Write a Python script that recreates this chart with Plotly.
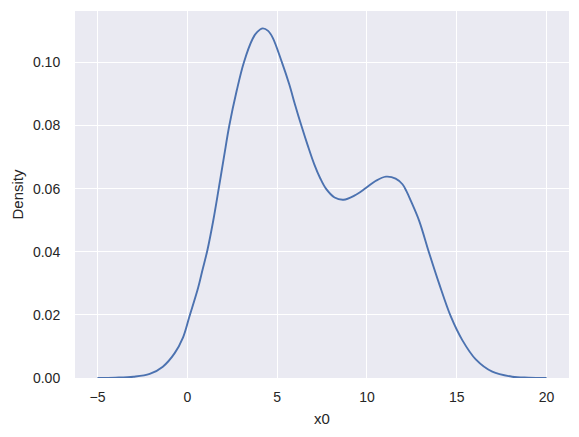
import plotly.graph_objects as go

# KDE curve
x0 = [-5.0, -4.0, -3.0, -2.09, -1.36, -0.71, -0.24, 0.12, 0.6, 0.85, 1.12, 1.45,
      1.75, 2.05, 2.34, 2.75, 3.15, 3.64, 3.9, 4.2, 4.5, 4.76, 5.27, 5.68, 6.0,
      6.35, 6.7, 7.07, 7.4, 7.72, 8.2, 8.7, 9.3, 9.94, 10.5, 11.06, 11.6, 11.98,
      12.2, 12.44, 12.91, 13.46, 14.02, 14.67, 15.31, 16.06, 16.98, 18.09, 19.0, 20.0]
density = [0.0, 0.0001, 0.0004, 0.0013, 0.0036, 0.0078, 0.0128, 0.0195, 0.0285,
           0.0343, 0.0405, 0.0500, 0.0600, 0.0703, 0.0800, 0.0910, 0.1000, 0.1075,
           0.1097, 0.1108, 0.1100, 0.1078, 0.1000, 0.0930, 0.0866, 0.0800, 0.0738,
           0.0677, 0.0633, 0.0600, 0.0572, 0.0565, 0.0578, 0.0602, 0.0625, 0.0638,
           0.0632, 0.0614, 0.0592, 0.0562, 0.0498, 0.0397, 0.0299, 0.0195, 0.0120,
           0.0059, 0.0020, 0.0004, 0.0001, 0.0]

x_ticks = [-5, 0, 5, 10, 15, 20]
y_ticks = [0.00, 0.02, 0.04, 0.06, 0.08, 0.10]

fig = go.Figure(go.Scatter(
    x=x0, y=density, mode="lines",
    line=dict(color="#4C72B0", width=1.9, shape="spline", smoothing=1.0),
    hoverinfo="skip",
))

font = dict(family="Liberation Sans, Arial, sans-serif", size=14, color="#262626")
fig.update_layout(
    width=579, height=437,
    margin=dict(l=75, r=10, t=11, b=59),
    paper_bgcolor="white", plot_bgcolor="#EAEAF2",
    font=font, showlegend=False,
)
fig.update_xaxes(
    range=[-6.25, 21.25], tickvals=x_ticks,
    ticktext=[str(v).replace("-", "\u2212") for v in x_ticks],
    showgrid=True, gridcolor="white", gridwidth=1.3, zeroline=False, showline=False,
    ticks="outside", ticklen=6, tickcolor="rgba(0,0,0,0)", automargin=False,
    title=dict(text="x0", standoff=9, font=dict(size=15)),
)
fig.update_yaxes(
    range=[0, 0.1163], tickvals=y_ticks, ticktext=[f"{v:.2f}" for v in y_ticks],
    showgrid=True, gridcolor="white", gridwidth=1.3, zeroline=False, showline=False,
    ticks="outside", ticklen=11, tickcolor="rgba(0,0,0,0)", automargin=False,
    title=dict(text="Density", standoff=5, font=dict(size=15)),
)

# the page's default body margin would shift the figure by 8px
fig.write_html("out.html", config={"displayModeBar": False},
               post_script="document.body.style.margin = '0';")
